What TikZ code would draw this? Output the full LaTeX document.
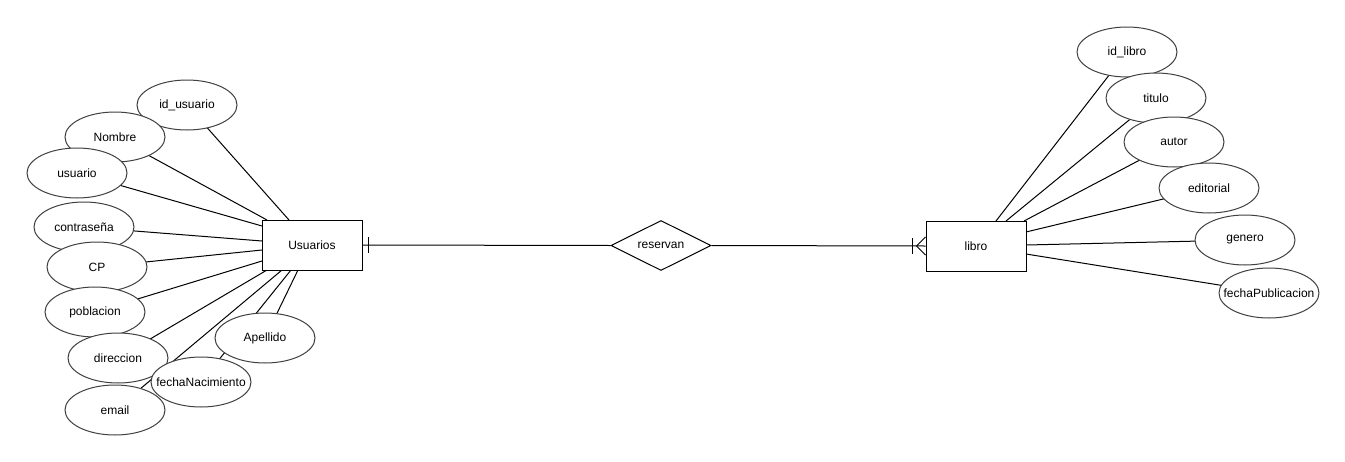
\documentclass[tikz,border=0pt]{standalone}
\usepackage{fontspec}
\setmainfont{Liberation Sans}
\usetikzlibrary{shapes.geometric,calc}
\pgfdeclarelayer{bg}
\pgfsetlayers{bg,main}
\newcommand\ztext[1]{\makebox[0pt][c]{#1}}
\begin{document}
\begin{tikzpicture}[x=1pt,y=-1pt,
  every node/.style={font=\fontsize{12}{14}\selectfont, text=black},
  attr/.style={ellipse, draw=black!75, line width=1pt, fill=white, minimum width=100pt, minimum height=50pt, inner sep=0pt},
  entity/.style={rectangle, draw=black, line width=1pt, fill=white, minimum width=100pt, minimum height=50pt, inner sep=0pt},
  rel/.style={diamond, draw=black, line width=1pt, fill=white, minimum width=100pt, minimum height=50pt, inner sep=0pt},
  link/.style={draw=black, line width=1pt}]
\useasboundingbox (0,0) rectangle (1345,461);

% entities and relation
\node[entity] (U) at (312,245) {\ztext{Usuarios}};
\node[entity] (L) at (976,246) {\ztext{libro}};
\node[rel] (R) at (661,245.5) {\ztext{reservan}};

% Usuarios attributes
\node[attr] (idu) at (187,105) {\ztext{id\_usuario}};
\node[attr] (nom) at (115,137) {\ztext{Nombre}};
\node[attr] (usu) at (77,173) {\ztext{usuario}};
\node[attr] (con) at (84,227) {\ztext{contraseña}};
\node[attr] (cp) at (97,267) {\ztext{CP}};
\node[attr] (pob) at (95,312) {\ztext{poblacion}};
\node[attr] (dir) at (118,358) {\ztext{direccion}};
\node[attr] (ema) at (115,410) {\ztext{email}};
\node[attr] (fna) at (201,382) {\ztext{fechaNacimiento}};
\node[attr] (ape) at (265,338) {\ztext{Apellido}};

% libro attributes
\node[attr] (idl) at (1127,52) {\ztext{id\_libro}};
\node[attr] (tit) at (1156,98) {\ztext{titulo}};
\node[attr] (aut) at (1174,142) {\ztext{autor}};
\node[attr] (edi) at (1209,188) {\ztext{editorial}};
\node[attr] (gen) at (1245,240) {\ztext{genero}};
\node[attr] (fpu) at (1269,293) {\ztext{fechaPublicacion}};

% connection points on entity borders
\coordinate (u1) at (289,220);
\coordinate (u2) at (267,220);
\coordinate (u3) at (262,226);
\coordinate (u4) at (262,241);
\coordinate (u5) at (262,250);
\coordinate (u6) at (262,261);
\coordinate (u7) at (267,270);
\coordinate (u8) at (282,270);
\coordinate (u9) at (291,270);
\coordinate (u10) at (298,270);
\coordinate (l1) at (996,221);
\coordinate (l2) at (1006,221);
\coordinate (l3) at (1024,221);
\coordinate (l4) at (1026,232);
\coordinate (l5) at (1026,245);
\coordinate (l6) at (1026,254);

\begin{pgfonlayer}{bg}
  \fill[white] (0,0) rectangle (1345,461);
  \draw[link] (idu.center) -- (u1);
  \draw[link] (nom.center) -- (u2);
  \draw[link] (usu.center) -- (u3);
  \draw[link] (con.center) -- (u4);
  \draw[link] (cp.center) -- (u5);
  \draw[link] (pob.center) -- (u6);
  \draw[link] (dir.center) -- (u7);
  \draw[link] (ema.center) -- (u8);
  \draw[link] (fna.center) -- (u9);
  \draw[link] (ape.center) -- (u10);
  \draw[link] (idl.center) -- (l1);
  \draw[link] (tit.center) -- (l2);
  \draw[link] (aut.center) -- (l3);
  \draw[link] (edi.center) -- (l4);
  \draw[link] (gen.center) -- (l5);
  \draw[link] (fpu.center) -- (l6);
\end{pgfonlayer}

% relationship lines
\draw[link] (U.east) -- (R.west);
\draw[link] (R.east) -- (L.west);
% cardinality: one (Usuarios side)
\draw[link] ($(U.east)+(6,-8)$) -- ($(U.east)+(6,8)$);
% cardinality: one-to-many (libro side)
\draw[link] ($(L.west)+(-13,-8)$) -- ($(L.west)+(-13,8)$);
\draw[link] ($(L.west)+(0,-9)$) -- ($(L.west)+(-9,0)$) -- ($(L.west)+(0,9)$);
\end{tikzpicture}
\end{document}
